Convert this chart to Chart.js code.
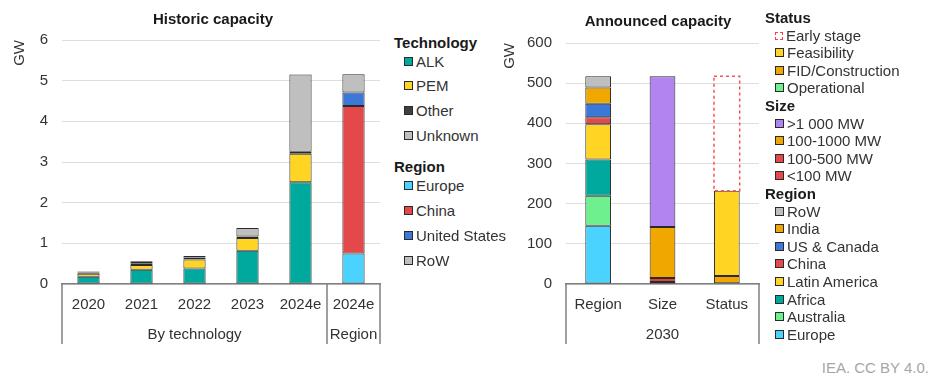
<!DOCTYPE html>
<html>
<head>
<meta charset="utf-8">
<script src="https://cdn.jsdelivr.net/npm/chart.js@4"></script>
<style>
  body { margin: 0; width: 931px; height: 380px; background: #fff; position: relative; overflow: hidden;
         font-family: 'Liberation Sans', Arial, sans-serif; color: #333; }
  canvas { position: absolute; top: 0; }
  .title { position: absolute; font-weight: bold; font-size: 15px; color: #1a1a1a; transform: translate(-50%, -50%); white-space: nowrap; }
  .lg { position: absolute; font-size: 15px; line-height: 18px; white-space: nowrap; transform: translateY(-50%); }
  .lg.head { font-weight: bold; color: #1a1a1a; }
  .sw { display: inline-block; width: 7px; height: 7px; border: 1px solid #2a2a2a; margin-right: 3px; vertical-align: 1px; }
  .sw.dash { border: 1.5px dashed #ff3b3b; width: 6px; height: 6px; background: #fff; }
  #src { position: absolute; right: 2px; top: 359px; font-size: 15px; color: #a6a6a6; }
</style>
</head>
<body>
<canvas id="histChart" width="390" height="352" style="left:0"></canvas>
<canvas id="annChart" width="275" height="352" style="left:490px"></canvas>
<div class="title" style="left:213px;top:18px">Historic capacity</div>
<div class="title" style="left:658px;top:20px">Announced capacity</div>
<div id="legends"></div>
<div id="src">IEA. CC BY 4.0.</div>
<script>
// historic capacity (GW)
const histLabels = ['2020', '2021', '2022', '2023', '2024e', '2024e'];
const alk      = [0.18, 0.35, 0.38, 0.82, 2.50, null];
const pem      = [0.07, 0.12, 0.22, 0.31, 0.70, null];
const otherTec = [0.03, 0.04, 0.05, 0.04, 0.05, null];
const unknown  = [0.03, 0.05, 0.04, 0.21, 1.90, null];
const hEurope  = [null, null, null, null, null, 0.75];
const hChina   = [null, null, null, null, null, 3.63];
const hUS      = [null, null, null, null, null, 0.33];
const hRoW     = [null, null, null, null, null, 0.45];

// announced capacity 2030 (GW)
const annLabels = ['Region', 'Size', 'Status'];
const aEurope    = [145, null, null];
const aAustralia = [75, null, null];
const aAfrica    = [90, null, null];
const aLatAm     = [88, null, null];
const aChina     = [17, null, null];
const aUSCanada  = [34, null, null];
const aIndia     = [40, null, null];
const aRoW       = [28, null, null];
const sizeLt100   = [null, 5, null];
const size100_500 = [null, 10, null];
const size100_1k  = [null, 127, null];
const sizeGt1k    = [null, 375, null];
const stOperational = [null, null, 2];
const stFID         = [null, null, 18];
const stFeasibility = [null, null, 212];
const stEarly       = [null, null, 285];

const TEAL = '#00a99d', YELLOW = '#ffd422', DGREY = '#404040', LGREY = '#bfbfbf',
      CYAN = '#4ad3ff', RED = '#e5484a', BLUE = '#3c78d8', ORANGE = '#f0a800',
      PURPLE = '#b185f0', GREEN = '#6ef08e';

Chart.defaults.font.family = "'Liberation Sans', Arial, sans-serif";
Chart.defaults.font.size = 15;
Chart.defaults.color = '#333';

// bottom-up stacks: [label, data, colour]
const histSeries = [
  ['ALK', alk, TEAL], ['PEM', pem, YELLOW], ['Other', otherTec, DGREY], ['Unknown', unknown, LGREY],
  ['Europe', hEurope, CYAN], ['China', hChina, RED], ['United States', hUS, BLUE], ['RoW', hRoW, LGREY]
];
const annSeries = [
  ['Europe', aEurope, CYAN], ['Australia', aAustralia, GREEN], ['Africa', aAfrica, TEAL],
  ['Latin America', aLatAm, YELLOW], ['China', aChina, RED], ['US & Canada', aUSCanada, BLUE],
  ['India', aIndia, ORANGE], ['RoW', aRoW, LGREY],
  ['<100 MW', sizeLt100, RED], ['100-500 MW', size100_500, '#e04040'], ['100-1000 MW', size100_1k, ORANGE],
  ['>1 000 MW', sizeGt1k, PURPLE],
  ['Operational', stOperational, GREEN], ['FID/Construction', stFID, ORANGE],
  ['Feasibility', stFeasibility, YELLOW], ['Early stage', stEarly, 'dash']
];

function makeDatasets(series, pct) {
  return series.map(([label, data, colour]) => ({
    label: label,
    data: data,
    backgroundColor: colour === 'dash' ? 'rgba(0,0,0,0)' : colour,
    borderColor: '#2a2a2a',
    borderWidth: colour === 'dash' ? 0 : 1,
    borderSkipped: false,
    dashed: colour === 'dash',
    barPercentage: pct,
    categoryPercentage: 1
  }));
}

// grouped category labels under the x axis + dashed outline bars
const groupAxis = {
  id: 'groupAxis',
  afterDraw(chart, args, opts) {
    const { ctx, chartArea } = chart;
    const x = chart.scales.x;
    const n = chart.data.labels.length;
    const edge = i => i <= 0 ? chartArea.left : i >= n ? chartArea.right
      : (x.getPixelForValue(i - 1) + x.getPixelForValue(i)) / 2;
    ctx.save();
    ctx.strokeStyle = '#808080';
    ctx.lineWidth = 1.5;
    ctx.fillStyle = '#333';
    ctx.font = "15px 'Liberation Sans', Arial, sans-serif";
    ctx.textAlign = 'center';
    ctx.textBaseline = 'middle';
    let start = 0;
    ctx.beginPath();
    ctx.moveTo(edge(0), chartArea.bottom);
    ctx.lineTo(edge(0), chartArea.bottom + 60);
    opts.groups.forEach(([name, count]) => {
      const a = edge(start), b = edge(start + count);
      ctx.moveTo(b, chartArea.bottom);
      ctx.lineTo(b, chartArea.bottom + 60);
      ctx.fillText(name, (a + b) / 2, chartArea.bottom + 51);
      start += count;
    });
    ctx.stroke();
    ctx.restore();
  },
  afterDatasetsDraw(chart) {
    const ctx = chart.ctx;
    chart.data.datasets.forEach((ds, i) => {
      if (!ds.dashed) return;
      chart.getDatasetMeta(i).data.forEach((bar, j) => {
        if (ds.data[j] == null) return;
        const p = bar.getProps(['x', 'y', 'base', 'width'], true);
        ctx.save();
        ctx.strokeStyle = '#ff5050';
        ctx.lineWidth = 1.5;
        ctx.setLineDash([3, 3]);
        ctx.strokeRect(p.x - p.width / 2, p.y, p.width, p.base - p.y);
        ctx.restore();
      });
    });
  }
};

function makeOptions(max, step, top, yWidth, padRight, groups) {
  return {
    responsive: false,
    animation: false,
    layout: { padding: { top: top, left: 7, right: padRight, bottom: 0 } },
    plugins: { legend: { display: false }, tooltip: { enabled: false }, groupAxis: { groups: groups } },
    scales: {
      x: {
        stacked: true,
        grid: { display: false, drawTicks: false },
        border: { color: '#808080', width: 1.5 },
        ticks: { padding: 12, color: '#333', maxRotation: 0, autoSkip: false },
        afterFit(s) { s.height = 68; }
      },
      y: {
        stacked: true, min: 0, max: max,
        ticks: { stepSize: step, padding: 14, color: '#333' },
        grid: { color: '#dedede', drawTicks: false },
        border: { display: false },
        title: { display: true, text: 'GW', align: 'end', color: '#333', padding: { top: 4, bottom: 4 } },
        afterFit(s) { s.width = yWidth; }
      }
    }
  };
}

new Chart(document.getElementById('histChart'), {
  type: 'bar',
  data: { labels: histLabels, datasets: makeDatasets(histSeries, 0.42) },
  options: makeOptions(6, 1, 40, 55, 10, [['By technology', 5], ['Region', 1]]),
  plugins: [groupAxis]
});

new Chart(document.getElementById('annChart'), {
  type: 'bar',
  data: { labels: annLabels, datasets: makeDatasets(annSeries, 0.4) },
  options: makeOptions(600, 100, 43, 69, 6, [['2030', 3]]),
  plugins: [groupAxis]
});

// legends (text as HTML)
const legendHist = [
  ['head', 'Technology', 43], ['ALK', TEAL, 62], ['PEM', YELLOW, 86], ['Other', DGREY, 111], ['Unknown', LGREY, 136],
  ['head', 'Region', 167], ['Europe', CYAN, 186], ['China', RED, 211], ['United States', BLUE, 236], ['RoW', LGREY, 261]
];
const legendAnn = [
  ['head', 'Status'], ['Early stage', 'dash'], ['Feasibility', YELLOW], ['FID/Construction', ORANGE], ['Operational', GREEN],
  ['head', 'Size'], ['>1 000 MW', PURPLE], ['100-1000 MW', ORANGE], ['100-500 MW', RED], ['<100 MW', RED],
  ['head', 'Region'], ['RoW', LGREY], ['India', ORANGE], ['US & Canada', BLUE], ['China', RED],
  ['Latin America', YELLOW], ['Africa', TEAL], ['Australia', GREEN], ['Europe', CYAN]
];
const box = document.getElementById('legends');
function addItem(a, b, left, y) {
  const d = document.createElement('div');
  d.className = 'lg';
  d.style.top = y + 'px';
  if (a === 'head') {
    d.classList.add('head');
    d.style.left = left + 'px';
    d.textContent = b;
  } else {
    d.style.left = (left + 10) + 'px';
    const s = document.createElement('span');
    s.className = 'sw' + (b === 'dash' ? ' dash' : '');
    if (b !== 'dash') s.style.background = b;
    d.appendChild(s);
    d.appendChild(document.createTextNode(a));
  }
  box.appendChild(d);
}
legendHist.forEach(([a, b, y]) => addItem(a, b, 394, y));
legendAnn.forEach(([a, b], i) => addItem(a, b, 765, 18 + i * 17.6));
</script>
</body>
</html>
